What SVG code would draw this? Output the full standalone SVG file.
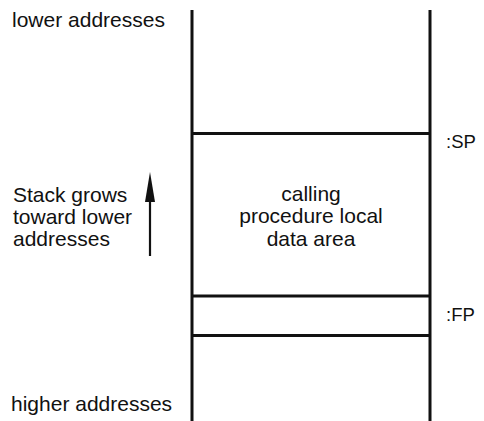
<svg xmlns="http://www.w3.org/2000/svg" width="484" height="421" viewBox="0 0 484 421">
<style>
text{font-family:"Liberation Sans",Arial,sans-serif;font-size:21px;fill:#111}
.c{text-anchor:middle}
.ptr{font-size:18.5px}
.ln{stroke:#111;stroke-width:3;fill:none}
.ar{stroke:#111;stroke-width:2.2;fill:none}
</style>
<defs>
<marker id="ah" markerWidth="30" markerHeight="10" refX="2" refY="5" orient="auto" markerUnits="userSpaceOnUse" viewBox="0 0 30 10">
<path d="M0,0 L30,5 L0,10 Z" fill="#111"/>
</marker>
</defs>
<rect width="484" height="421" fill="#fff"/>
<g id="stack">
<line class="ln" x1="192" y1="10" x2="192" y2="421"/>
<line class="ln" x1="430" y1="10" x2="430" y2="421"/>
</g>
<g id="sp-line">
<line class="ln" x1="192" y1="133.5" x2="430" y2="133.5"/>
<text class="ptr" x="446" y="148">:SP</text>
</g>
<g id="local-data">
<text class="c" x="311" y="200.5">calling</text>
<text class="c" x="311" y="223">procedure local</text>
<text class="c" x="311" y="245.5">data area</text>
</g>
<g id="fp-slot">
<line class="ln" x1="192" y1="296" x2="430" y2="296"/>
<line class="ln" x1="192" y1="335.5" x2="430" y2="335.5"/>
<text class="ptr" x="446" y="321">:FP</text>
</g>
<g id="labels">
<text x="12" y="27">lower addresses</text>
<text x="11" y="411">higher addresses</text>
<text x="13" y="202">Stack grows</text>
<text x="13" y="224">toward lower</text>
<text x="13" y="246">addresses</text>
</g>
<g id="connectors">
<line class="ar" x1="150" y1="256" x2="150" y2="200" marker-end="url(#ah)"/>
</g>
</svg>
